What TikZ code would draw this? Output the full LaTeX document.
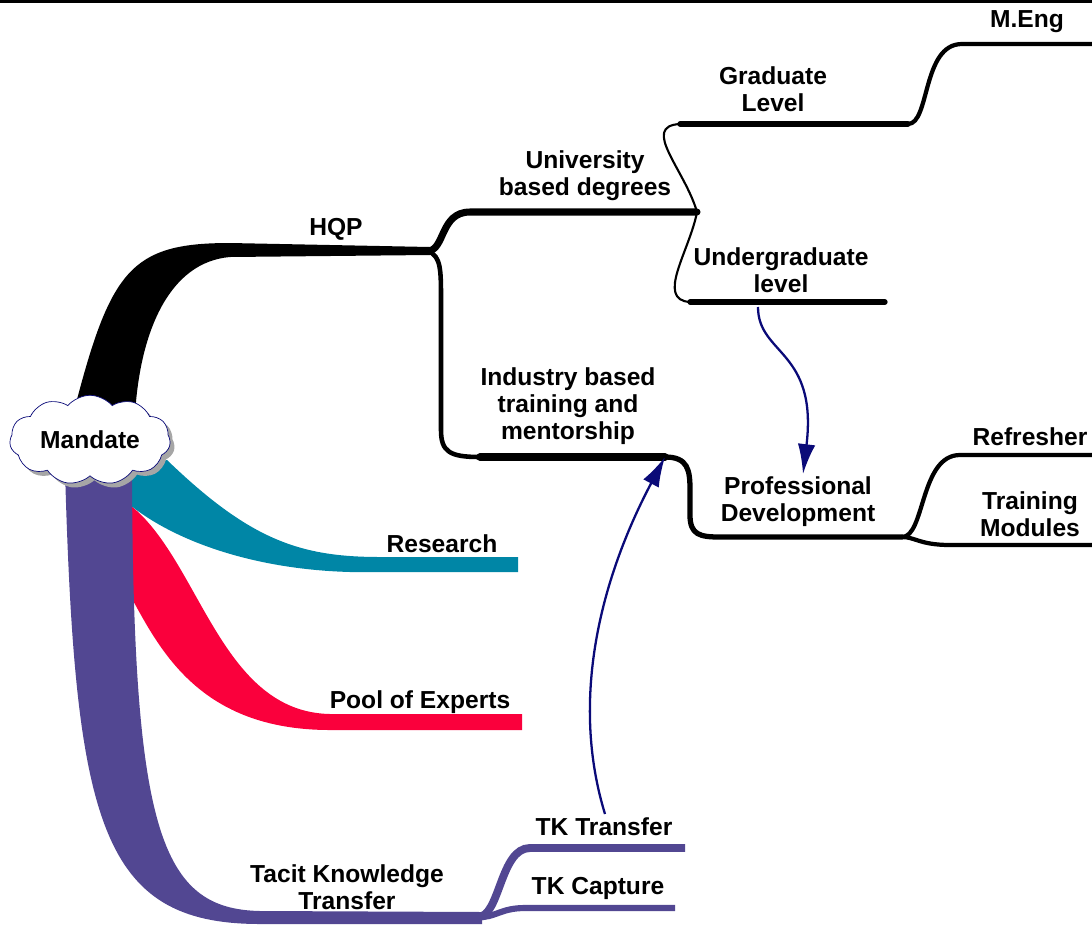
\documentclass[tikz,border=0pt]{standalone}
\usepackage{fontspec}
\setmainfont{Liberation Sans}
\usepackage{tikz}
\usetikzlibrary{shapes,shapes.symbols,arrows.meta,positioning,shadows}
\definecolor{teal}{RGB}{0, 134, 166}
\definecolor{red}{RGB}{250, 0, 60}
\definecolor{purple}{RGB}{82, 71, 146}
\definecolor{navy}{RGB}{10, 10, 120}
\tikzstyle{lbl} = [align=center, text=black, font=\bfseries\fontsize{14}{15.5}\selectfont, inner sep=0pt]
\tikzstyle{mandate} = [cloud, cloud puffs=11, cloud puff arc=100, aspect=2.2, draw=navy, thin, fill=white, minimum width=3.15cm, minimum height=1.6cm, font=\bfseries\fontsize{14}{15.5}\selectfont, drop shadow={shadow xshift=2.5pt, shadow yshift=-2.5pt, fill=gray!70, opacity=1}]
\tikzstyle{twig} = [draw, black, line cap=round, line join=round]
\tikzstyle{link} = [draw, navy, line width=1.3pt, -{Latex[length=17pt,width=10pt]}]

\begin{document}
\begin{tikzpicture}[x=0.02cm, y=-0.02cm]
\useasboundingbox (0,0) rectangle (1092,927);

% top rule
\fill[black] (0,0) rectangle (1092,3);

% main branches ============================

% pool of experts
\fill[red] (130,505) .. controls (200,560) and (220,712) .. (330,714) -- (522,714)
  -- (522,730) -- (330,730) .. controls (200,730) and (160,650) .. (130,595) -- cycle;
% research
\fill[teal] (167,460) .. controls (250,540) and (300,557) .. (380,557) -- (518,557)
  -- (518,572) -- (380,572) .. controls (270,575) and (180,545) .. (130,505) -- (130,470) -- cycle;
% tacit knowledge
\fill[purple] (65,470) .. controls (75,822) and (100,924) .. (260,924) -- (482,924)
  -- (482,912) -- (260,911) .. controls (160,909) and (133,830) .. (132,470) -- cycle;
% hqp
\fill[black] (73,415) .. controls (110,270) and (130,243) .. (230,243) -- (430,247)
  -- (430,255) -- (230,257) .. controls (170,262) and (140,330) .. (135,415) -- cycle;

% joints
\coordinate (hqpend) at (428,251);
\coordinate (unend) at (697,212);
\coordinate (grend) at (908,124);
\coordinate (indend) at (665,457);
\coordinate (pdend) at (902,537);
\coordinate (tkend) at (478,917);
\coordinate (ugline) at (758,307);
\coordinate (pdtop) at (803,474);
\coordinate (tktop) at (605,814);

% sub branches
\path[twig, line width=4pt] (hqpend) .. controls (445,250) and (440,212) .. (470,212) -- (unend);
\path[twig, line width=2.6pt] (hqpend) .. controls (441,256) and (441,270) .. (441,300) -- (441,430)
  .. controls (441,452) and (450,457) .. (480,457);
\path[twig, line width=4.2pt] (480,457) -- (indend);
\path[twig, line width=3pt] (indend) .. controls (688,457) and (690,470) .. (690,490) -- (690,515)
  .. controls (690,535) and (700,537) .. (720,537) -- (pdend);
\path[twig, line width=1.2pt] (unend) .. controls (685,170) and (640,126) .. (680,124);
\path[twig, line width=3pt] (680,124) -- (grend);
\path[twig, line width=1.2pt] (unend) .. controls (690,250) and (655,300) .. (690,302);
\path[twig, line width=3pt] (690,302) -- (885,302);
\path[twig, line width=2.4pt] (grend) .. controls (930,124) and (922,44) .. (962,44) -- (1092,44);
\path[twig, line width=2.4pt] (pdend) .. controls (925,537) and (920,455) .. (960,455) -- (1092,455);
\path[twig, line width=2.4pt] (pdend) .. controls (915,537) and (920,545) .. (950,545) -- (1092,545);
\path[draw, purple, line width=4.5pt] (tkend) .. controls (500,917) and (500,848) .. (530,848) -- (685,848);
\path[draw, purple, line width=3.5pt] (tkend) .. controls (495,918) and (500,908) .. (525,908) -- (675,908);

% centre
\node[mandate] (mand) at (90,440) {Mandate};

% labels
\node[lbl] (hqp) at (336,229) {HQP};
\node[lbl] (univ) at (585,176) {University\\based degrees};
\node[lbl] (grad) at (773,89) {Graduate\\Level};
\node[lbl] (meng) at (1027,22) {M.Eng};
\node[lbl] (under) at (781,270) {Undergraduate\\level};
\node[lbl] (indus) at (568,406) {Industry based\\training and\\mentorship};
\node[lbl] (prof) at (798,502) {Professional\\Development};
\node[lbl] (refr) at (1030,437) {Refresher};
\node[lbl] (train) at (1030,514) {Training\\Modules};
\node[lbl] (res) at (442,544) {Research};
\node[lbl] (pool) at (420,702) {Pool of Experts};
\node[lbl] (tacit) at (347,887) {Tacit Knowledge\\Transfer};
\node[lbl] (tktr) at (604,827) {TK Transfer};
\node[lbl] (tkcap) at (598,888) {TK Capture};

% links
\path[link] (ugline) .. controls (758,355) and (818,350) .. (pdtop);
\path[link] (tktop) .. controls (570,700) and (600,580) .. (indend);

\end{tikzpicture}
\end{document}
